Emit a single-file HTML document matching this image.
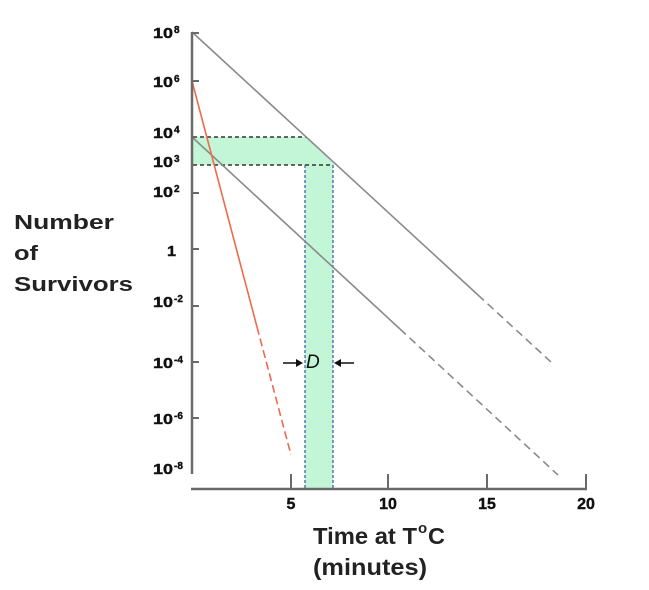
<!DOCTYPE html>
<html><head><meta charset="utf-8"><style>
html,body{margin:0;padding:0;background:#fff;}
svg{display:block;}
text{font-family:"Liberation Sans",Arial,sans-serif;}
</style></head><body>
<svg width="649" height="590" viewBox="0 0 649 590" xmlns="http://www.w3.org/2000/svg">
<rect width="649" height="590" fill="#fff"/>
<!-- green bands -->
<polygon points="192,137 306,137 335,165 192,165" fill="#c3f6d6"/>
<rect x="305" y="165" width="28" height="324" fill="#c3f6d6"/>
<!-- dashed guides -->
<line x1="193" y1="137" x2="306" y2="137" stroke="#333" stroke-width="1.5" stroke-dasharray="4,3"/>
<line x1="193" y1="165" x2="333" y2="165" stroke="#333" stroke-width="1.5" stroke-dasharray="4,3"/>
<line x1="305" y1="165" x2="305" y2="489" stroke="#3f63a8" stroke-width="1.3" stroke-dasharray="3,2"/>
<line x1="333" y1="165" x2="333" y2="489" stroke="#3f63a8" stroke-width="1.3" stroke-dasharray="3,2"/>
<!-- gray lines -->
<line x1="192" y1="32" x2="478" y2="295" stroke="#8a8a8a" stroke-width="1.6"/>
<line x1="478" y1="295" x2="551" y2="362" stroke="#8a8a8a" stroke-width="1.6" stroke-dasharray="8,5"/>
<line x1="192" y1="137" x2="400" y2="329" stroke="#8a8a8a" stroke-width="1.6"/>
<line x1="400" y1="329" x2="558" y2="475" stroke="#8a8a8a" stroke-width="1.6" stroke-dasharray="8,5"/>
<!-- red line -->
<line x1="192" y1="81" x2="257" y2="327" stroke="#ef6a4c" stroke-width="1.6"/>
<line x1="257" y1="327" x2="291" y2="455" stroke="#ef6a4c" stroke-width="1.6" stroke-dasharray="8,4"/>
<!-- axes -->
<line x1="192" y1="32" x2="192" y2="474" stroke="#6a6a6a" stroke-width="2.5"/>
<line x1="191" y1="489" x2="587" y2="489" stroke="#6a6a6a" stroke-width="2.5"/>
<g stroke="#6a6a6a" stroke-width="2">
<line x1="192" y1="33" x2="199" y2="33"/>
<line x1="192" y1="81" x2="199" y2="81"/>
<line x1="192" y1="193" x2="199" y2="193"/>
<line x1="192" y1="249" x2="199" y2="249"/>
<line x1="192" y1="306" x2="199" y2="306"/>
<line x1="192" y1="362" x2="199" y2="362"/>
<line x1="192" y1="418" x2="199" y2="418"/>
<line x1="291" y1="474" x2="291" y2="489"/>
<line x1="388" y1="474" x2="388" y2="489"/>
<line x1="487" y1="474" x2="487" y2="489"/>
<line x1="586" y1="474" x2="586" y2="489"/>
</g>
<!-- y tick labels -->
<g font-weight="bold" fill="#111" stroke="#111" stroke-width="0.4">
<text x="153" y="38" font-size="15" textLength="20" lengthAdjust="spacingAndGlyphs">10</text><text x="174" y="33" font-size="10">8</text>
<text x="153" y="87" font-size="15" textLength="20" lengthAdjust="spacingAndGlyphs">10</text><text x="174" y="82" font-size="10">6</text>
<text x="153" y="138" font-size="15" textLength="20" lengthAdjust="spacingAndGlyphs">10</text><text x="174" y="133" font-size="10">4</text>
<text x="153" y="167" font-size="15" textLength="20" lengthAdjust="spacingAndGlyphs">10</text><text x="174" y="162" font-size="10">3</text>
<text x="153" y="197" font-size="15" textLength="20" lengthAdjust="spacingAndGlyphs">10</text><text x="174" y="192" font-size="10">2</text>
<text x="167" y="256" font-size="15" textLength="9" lengthAdjust="spacingAndGlyphs">1</text>
<text x="153" y="307" font-size="15" textLength="20" lengthAdjust="spacingAndGlyphs">10</text><text x="174" y="302" font-size="10">-2</text>
<text x="153" y="368" font-size="15" textLength="20" lengthAdjust="spacingAndGlyphs">10</text><text x="174" y="363" font-size="10">-4</text>
<text x="153" y="424" font-size="15" textLength="20" lengthAdjust="spacingAndGlyphs">10</text><text x="174" y="419" font-size="10">-6</text>
<text x="153" y="474" font-size="15" textLength="20" lengthAdjust="spacingAndGlyphs">10</text><text x="174" y="469" font-size="10">-8</text>
</g>
<!-- x tick labels -->
<g font-weight="bold" fill="#111" stroke="#111" stroke-width="0.4" font-size="16" text-anchor="middle">
<text x="291" y="509">5</text>
<text x="388" y="509">10</text>
<text x="487" y="509">15</text>
<text x="586" y="509">20</text>
</g>
<!-- D marker -->
<g stroke="#111" stroke-width="1.5" fill="#111">
<line x1="283" y1="363" x2="298" y2="363"/>
<polygon points="303,363 296,359 296,367" stroke="none"/>
<line x1="339" y1="363" x2="354" y2="363"/>
<polygon points="334,363 341,359 341,367" stroke="none"/>
</g>
<text x="306" y="368" font-size="19" font-style="italic" fill="#111">D</text>
<!-- axis titles -->
<g font-weight="bold" fill="#222">
<text x="14" y="229" font-size="20" textLength="100" lengthAdjust="spacingAndGlyphs">Number</text>
<text x="14" y="260" font-size="20" textLength="24" lengthAdjust="spacingAndGlyphs">of</text>
<text x="14" y="291" font-size="20" textLength="119" lengthAdjust="spacingAndGlyphs">Survivors</text>
<text x="313" y="544" font-size="23" textLength="104" lengthAdjust="spacingAndGlyphs">Time at T</text>
<text x="418" y="533" font-size="15">o</text>
<text x="428" y="544" font-size="23" textLength="17" lengthAdjust="spacingAndGlyphs">C</text>
<text x="313" y="575" font-size="23" textLength="114" lengthAdjust="spacingAndGlyphs">(minutes)</text>
</g>
</svg>
</body></html>
